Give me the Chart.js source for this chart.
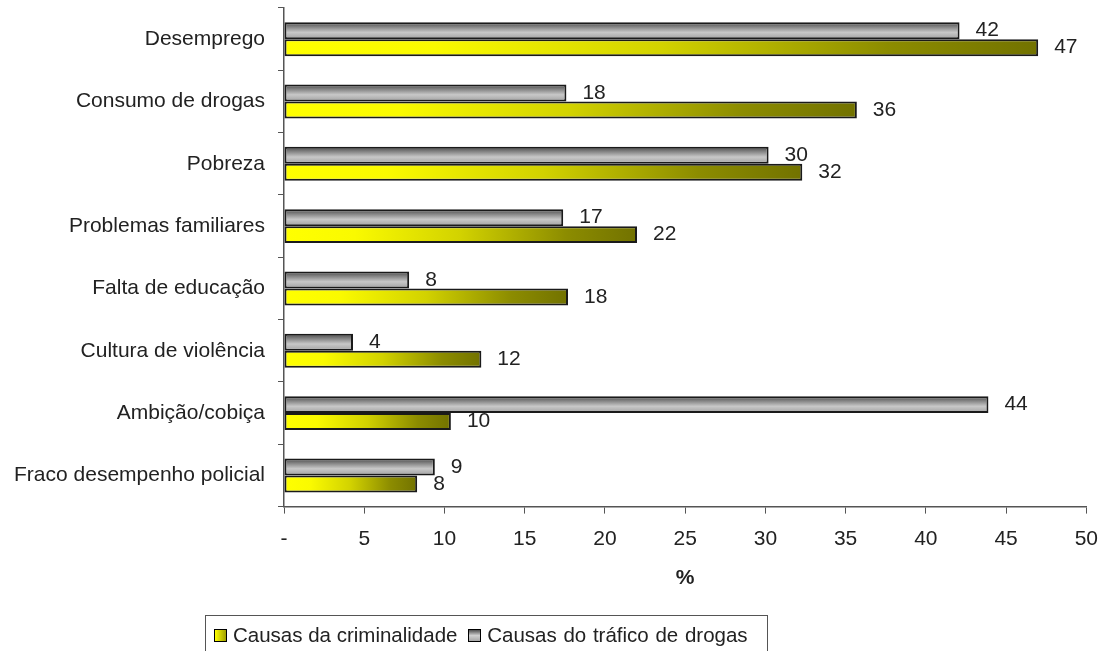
<!DOCTYPE html>
<html lang="pt">
<head>
  <meta charset="UTF-8">
  <title>Causas da criminalidade e do tráfico de drogas</title>
  <script src="https://cdn.jsdelivr.net/npm/chart.js"></script>
  <style>
    body {
      margin: 0;
      background: #fff;
      font-family: "Liberation Sans", Arial, sans-serif;
    }
    #wrap {
      position: relative;
      width: 1111px;
      height: 651px;
      overflow: hidden;
    }
    #legenda {
      position: absolute;
      left: 205px;
      top: 615px;
      width: 563px;
      height: 45px;
      border: 1px solid #555;
      font-size: 20.5px;
      color: #222;
      padding: 7px 0 0 8px;
      box-sizing: border-box;
      white-space: nowrap;
    }
    .caixa {
      display: inline-block;
      width: 11px;
      height: 11px;
      border: 1.5px solid #000;
      margin-right: 6px;
      vertical-align: 0px;
    }
  </style>
</head>
<body>
  <div id="wrap">
    <canvas id="grafico" width="1111" height="651"></canvas>
    <div id="legenda">
      <span class="caixa" style="background: linear-gradient(90deg, #ffff00, #a0a000);"></span>Causas da criminalidade
      <span class="caixa" style="background: linear-gradient(180deg, #505050, #d0d0d0, #a8a8a8); margin-left: 5px;"></span><span style="word-spacing: 1px;">Causas do tráfico de drogas</span>
    </div>
  </div>

  <script>
    const categorias = [
      'Desemprego',
      'Consumo de drogas',
      'Pobreza',
      'Problemas familiares',
      'Falta de educação',
      'Cultura de violência',
      'Ambição/cobiça',
      'Fraco desempenho policial'
    ];
    // valores (comprimento das barras)
    const criminalidade = [47, 35.7, 32.3, 22, 17.7, 12.3, 10.4, 8.3];
    const trafico = [42.1, 17.6, 30.2, 17.4, 7.8, 4.3, 43.9, 9.4];
    const ticksX = [0, 5, 10, 15, 20, 25, 30, 35, 40, 45, 50];

    const catPct = 0.545;
    const fonte = '"Liberation Sans", Arial, sans-serif';

    function gradienteAmarelo(context) {
      const chart = context.chart;
      if (!chart.chartArea) return '#e0e000';
      const x = chart.scales.x;
      const x0 = x.getPixelForValue(0);
      const x1 = x.getPixelForValue(context.raw);
      const g = chart.ctx.createLinearGradient(x0, 0, Math.max(x1, x0 + 1), 0);
      g.addColorStop(0, '#ffff00');
      g.addColorStop(0.2, '#fafa00');
      g.addColorStop(0.5, '#d2d200');
      g.addColorStop(0.8, '#8c8c00');
      g.addColorStop(1, '#727200');
      return g;
    }

    function gradienteCinza(context) {
      const chart = context.chart;
      if (!chart.chartArea) return '#aaaaaa';
      const y = chart.scales.y;
      const centro = y.getPixelForValue(context.dataIndex);
      const metade = (y.height / categorias.length) * catPct / 2;
      const g = chart.ctx.createLinearGradient(0, centro - metade, 0, centro);
      g.addColorStop(0, '#484848');
      g.addColorStop(0.6, '#c8c8c8');
      g.addColorStop(1, '#a0a0a0');
      return g;
    }

    const rotulos = {
      id: 'rotulos',
      afterDatasetsDraw(chart) {
        const ctx = chart.ctx;
        ctx.save();
        ctx.font = '21px ' + fonte;
        ctx.fillStyle = '#222';
        ctx.textBaseline = 'middle';
        ctx.textAlign = 'left';
        chart.data.datasets.forEach((ds, i) => {
          chart.getDatasetMeta(i).data.forEach((bar, j) => {
            ctx.fillText(Math.round(ds.data[j]), bar.x + 16, bar.y);
          });
        });
        ctx.restore();
      }
    };

    new Chart(document.getElementById('grafico'), {
      type: 'bar',
      data: {
        labels: categorias,
        datasets: [
          {
            label: 'Causas do tráfico de drogas',
            data: trafico,
            backgroundColor: gradienteCinza,
            borderColor: '#1a1a1a',
            borderWidth: 2,
            borderSkipped: false,
            categoryPercentage: catPct,
            barPercentage: 1
          },
          {
            label: 'Causas da criminalidade',
            data: criminalidade,
            backgroundColor: gradienteAmarelo,
            borderColor: '#1a1a1a',
            borderWidth: 2,
            borderSkipped: false,
            categoryPercentage: catPct,
            barPercentage: 1
          }
        ]
      },
      options: {
        indexAxis: 'y',
        responsive: false,
        animation: false,
        layout: { padding: { left: 0, right: 24, top: 8, bottom: 60 } },
        plugins: {
          legend: { display: false },
          tooltip: { enabled: false }
        },
        scales: {
          x: {
            min: 0,
            max: 50,
            afterBuildTicks: (axis) => { axis.ticks = ticksX.map(v => ({ value: v })); },
            ticks: {
              callback: v => v === 0 ? '-' : v,
              color: '#222',
              font: { size: 21, family: fonte },
              padding: 13,
              maxRotation: 0
            },
            grid: { drawOnChartArea: false, tickLength: 7, color: '#555' },
            border: { color: '#555', width: 1.5 },
            title: {
              display: true,
              text: '%',
              color: '#222',
              font: { size: 21, weight: 'bold', family: fonte },
              padding: { top: 1, bottom: 0 }
            }
          },
          y: {
            afterFit: (axis) => {
              axis.width = 284;
              axis.paddingTop = 0;
              axis.paddingBottom = 0;
            },
            ticks: {
              color: '#222',
              font: { size: 21, family: fonte },
              padding: 13
            },
            grid: { drawOnChartArea: false, tickLength: 6, offset: true, color: '#555' },
            border: { color: '#555', width: 1.5 }
          }
        }
      },
      plugins: [rotulos]
    });
  </script>
</body>
</html>
